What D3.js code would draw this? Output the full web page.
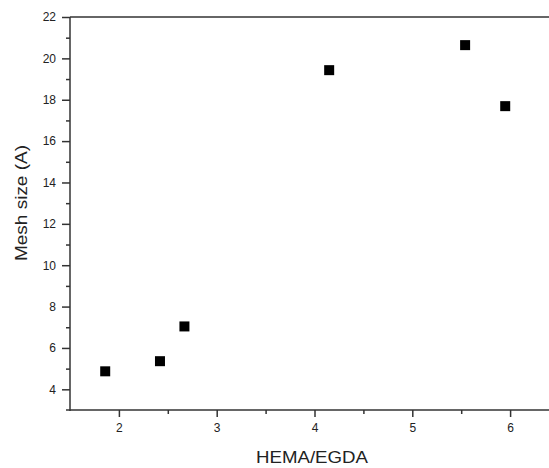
<!DOCTYPE html>
<html>
<head>
<meta charset="utf-8">
<script src="https://cdn.jsdelivr.net/npm/d3@7"></script>
<style>
  html, body { margin: 0; padding: 0; background: #fff; overflow: hidden; }
  svg { display: block; font-family: "Liberation Sans", Arial, sans-serif; }
</style>
</head>
<body>
<svg id="chart" width="549" height="468"></svg>
<script>
// values
const ratio = [1.86, 2.42, 2.67, 4.15, 5.54, 5.95]
const meshSize = [4.87, 5.36, 7.04, 19.43, 20.64, 17.69]
const xTicks = [2, 3, 4, 5, 6]
const yTicks = [4, 6, 8, 10, 12, 14, 16, 18, 20, 22]

const svg = d3.select('#chart')
const axisColor = '#333'

const x = d3.scaleLinear().domain([1.5, 6.5]).range([70, 559])
const y = d3.scaleLinear().domain([3, 22]).range([410, 17])

// x axis
const xAxis = svg.append('g').attr('transform', `translate(0,${y(3)})`)
xAxis.call(d3.axisBottom(x).tickValues(xTicks).tickSize(7).tickPadding(6).tickFormat(d3.format('d')))
xAxis.append('g').call(d3.axisBottom(x).tickValues(d3.range(2.5, 6.5, 1)).tickSize(4).tickFormat(''))
xAxis.selectAll('path.domain').remove()
xAxis.append('line').attr('x1', 66).attr('x2', 549).attr('stroke', axisColor).attr('stroke-width', 1.5)

// y axis
const yAxis = svg.append('g').attr('transform', `translate(${x(1.5)},0)`)
yAxis.call(d3.axisLeft(y).tickValues(yTicks).tickSize(8).tickPadding(6).tickFormat(d3.format('d')))
yAxis.append('g').call(d3.axisLeft(y).tickValues(d3.range(5, 22, 2)).tickSize(4).tickFormat(''))
yAxis.selectAll('path.domain').remove()
yAxis.append('line').attr('y1', y(22)).attr('y2', y(3) + 1).attr('stroke', axisColor).attr('stroke-width', 1.5)

svg.selectAll('.tick line').attr('stroke', axisColor).attr('stroke-width', 1.5)
svg.selectAll('.tick text').attr('fill', '#222').style('font-size', '12px')

// top frame line
svg.append('line')
  .attr('x1', x(1.5)).attr('x2', 549)
  .attr('y1', y(22)).attr('y2', y(22))
  .attr('stroke', axisColor).attr('stroke-width', 1.5)

// points
const size = 10
svg.append('g').selectAll('rect')
  .data(ratio.map((r, i) => ({ r, m: meshSize[i] })))
  .enter()
  .append('rect')
  .attr('x', d => x(d.r) - size / 2)
  .attr('y', d => y(d.m) - size / 2)
  .attr('width', size)
  .attr('height', size)
  .attr('fill', '#000')

// labels
svg.append('text')
  .attr('x', 256).attr('y', 463)
  .attr('textLength', 112)
  .attr('lengthAdjust', 'spacingAndGlyphs')
  .style('font-size', '16px')
  .attr('fill', '#222')
  .text('HEMA/EGDA')

svg.append('text')
  .attr('transform', 'translate(27,261) rotate(-90)')
  .attr('textLength', 116)
  .attr('lengthAdjust', 'spacingAndGlyphs')
  .style('font-size', '16px')
  .attr('fill', '#222')
  .text('Mesh size (A)')
</script>
</body>
</html>
